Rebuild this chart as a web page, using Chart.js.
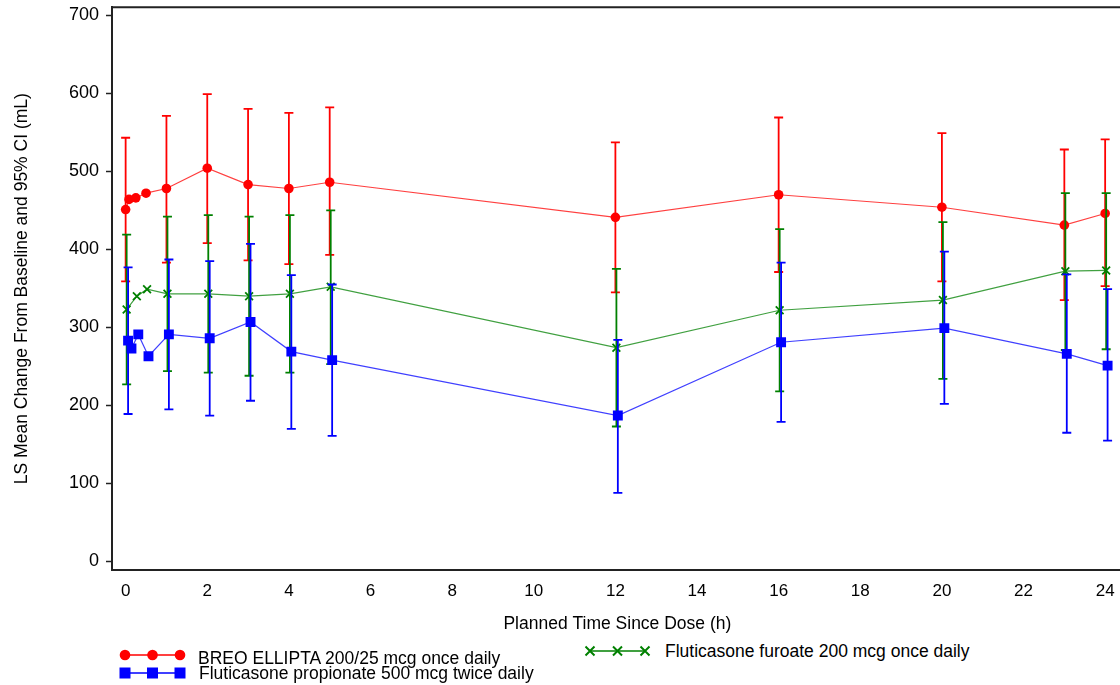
<!DOCTYPE html>
<html>
<head>
<meta charset="utf-8">
<script src="https://cdn.jsdelivr.net/npm/chart.js@4.4.1/dist/chart.umd.min.js"></script>
<style>
html,body{margin:0;padding:0;background:#fff;overflow:hidden;width:1120px;height:685px;}
#wrap{position:absolute;left:0;top:0;width:1130px;height:640px;}
.leg{position:absolute;font-family:"Liberation Sans",Arial,sans-serif;font-size:17.5px;line-height:17px;color:#000;white-space:nowrap;}
canvas.sym{position:absolute;}
</style>
</head>
<body>
<div id="wrap"><canvas id="c" width="1130" height="640"></canvas></div>
<canvas class="sym" id="symBreo" width="80" height="20" style="left:115px;top:645px;"></canvas>
<canvas class="sym" id="symFp" width="80" height="20" style="left:115px;top:663px;"></canvas>
<canvas class="sym" id="symFf" width="80" height="20" style="left:580px;top:641px;"></canvas>
<div class="leg" style="left:198px;top:650px;">BREO ELLIPTA 200/25 mcg once daily</div>
<div class="leg" style="left:199px;top:665px;">Fluticasone propionate 500 mcg twice daily</div>
<div class="leg" style="left:665px;top:643px;">Fluticasone furoate 200 mcg once daily</div>
<script>
// ---- data (hours since dose) ----
const times = [0, 0.083, 0.25, 0.5, 1, 2, 3, 4, 5, 12, 16, 20, 23, 24];

const breoMean = [451, 464, 466, 472, 478, 504, 483, 478, 486, 441, 470, 454, 431, 446];
const breoLow  = [359, null, null, null, 383, 408, 386, 381, 393, 345, 371, 359, 335, 353];
const breoHigh = [543, null, null, null, 571, 599, 580, 575, 582, 537, 569, 549, 528, 541];

const ffMean = [323, null, 340, 349, 343, 343, 340, 343, 352, 274, 322, 335, 372, 373];
const ffLow  = [227, null, null, null, 244, 242, 238, 242, 253, 173, 218, 234, 271, 272];
const ffHigh = [419, null, null, null, 442, 444, 442, 444, 450, 375, 426, 435, 472, 472];

const fpMean = [283, 273, 291, 263, 291, 286, 307, 269, 258, 187, 281, 299, 266, 251];
const fpLow  = [189, null, null, null, 195, 187, 206, 170, 161,  88, 179, 202, 165, 155];
const fpHigh = [377, null, null, null, 387, 385, 407, 367, 355, 284, 383, 397, 368, 349];

const xTicks = [0, 2, 4, 6, 8, 10, 12, 14, 16, 18, 20, 22, 24];
const yTicks = [0, 100, 200, 300, 400, 500, 600, 700];

const seriesNames = [
  'BREO ELLIPTA 200/25 mcg once daily',
  'Fluticasone furoate 200 mcg once daily',
  'Fluticasone propionate 500 mcg twice daily'
];

function pts(mean, lo, hi, shift) {
  const out = [];
  times.forEach((t, i) => {
    if (mean[i] == null) return;
    out.push({x: t + shift, y: mean[i], lo: lo[i], hi: hi[i]});
  });
  return out;
}

const FONT = '"Liberation Sans", Arial, sans-serif';
const RED = '#ff0000', GREEN = '#008000', BLUE = '#0000ff';

const errorBars = {
  id: 'errorBars',
  afterDatasetDraw(chart, args) {
    const ds = chart.data.datasets[args.index];
    const xs = chart.scales.x, ys = chart.scales.y;
    const ctx = chart.ctx;
    const a = chart.chartArea;
    ctx.save();
    ctx.beginPath();
    ctx.rect(a.left, a.top, a.right - a.left, a.bottom - a.top);
    ctx.clip();
    ctx.strokeStyle = ds.errColor;
    ctx.lineWidth = 1.8;
    const cap = 4.5;
    ds.data.forEach(p => {
      if (p.lo == null || p.hi == null) return;
      const px = xs.getPixelForValue(p.x);
      const y1 = ys.getPixelForValue(p.lo);
      const y2 = ys.getPixelForValue(p.hi);
      ctx.beginPath();
      ctx.moveTo(px, y1); ctx.lineTo(px, y2);
      ctx.moveTo(px - cap, y1); ctx.lineTo(px + cap, y1);
      ctx.moveTo(px - cap, y2); ctx.lineTo(px + cap, y2);
      ctx.stroke();
    });
    ctx.restore();
  }
};

const topFrame = {
  id: 'topFrame',
  afterDraw(chart) {
    const a = chart.chartArea, ctx = chart.ctx;
    ctx.save();
    ctx.strokeStyle = '#222';
    ctx.lineWidth = 2;
    ctx.beginPath();
    ctx.moveTo(a.left - 1, a.top);
    ctx.lineTo(a.right + 1, a.top);
    ctx.stroke();
    ctx.restore();
  }
};

new Chart(document.getElementById('c'), {
  type: 'line',
  data: {
    datasets: [
      {
        label: seriesNames[0],
        data: pts(breoMean, breoLow, breoHigh, 0),
        errColor: RED,
        borderColor: 'rgba(255,0,0,0.75)', backgroundColor: RED,
        borderWidth: 1.2, pointStyle: 'circle', pointRadius: 4.8,
        pointBackgroundColor: RED, pointBorderColor: RED, pointBorderWidth: 0,
        order: 3
      },
      {
        label: seriesNames[1],
        data: pts(ffMean, ffLow, ffHigh, 0.025),
        errColor: GREEN,
        borderColor: 'rgba(0,128,0,0.75)', backgroundColor: GREEN,
        borderWidth: 1.2, pointStyle: 'crossRot', pointRadius: 5.5,
        pointBorderColor: GREEN, pointBorderWidth: 1.8,
        order: 2
      },
      {
        label: seriesNames[2],
        data: pts(fpMean, fpLow, fpHigh, 0.06),
        errColor: BLUE,
        borderColor: 'rgba(0,0,255,0.75)', backgroundColor: BLUE,
        borderWidth: 1.2, pointStyle: 'rect', pointRadius: 7,
        pointBackgroundColor: BLUE, pointBorderColor: BLUE, pointBorderWidth: 0,
        order: 1
      }
    ]
  },
  options: {
    responsive: false,
    devicePixelRatio: 1,
    animation: false,
    events: [],
    layout: {padding: {left: 0, top: 7, right: 0, bottom: 0}},
    plugins: {legend: {display: false}, tooltip: {enabled: false}},
    scales: {
      x: {
        type: 'linear',
        min: -0.334, max: 24.43,
        afterBuildTicks: s => { s.ticks = xTicks.map(v => ({value: v})); },
        afterFit: s => { s.height = 70; s.paddingLeft = 0; s.paddingRight = 0; },
        grid: {display: false, drawTicks: false},
        border: {display: true, color: '#222', width: 2},
        ticks: {color: '#000', padding: 11, maxRotation: 0, autoSkip: false,
                font: {family: FONT, size: 17}},
        title: {display: true, text: 'Planned Time Since Dose (h)', color: '#000',
                font: {family: FONT, size: 17.5}, padding: {top: 0, bottom: 5.5}}
      },
      y: {
        type: 'linear',
        min: -10.9, max: 710.2,
        afterBuildTicks: s => { s.ticks = yTicks.map(v => ({value: v})); },
        afterFit: s => { s.width = 112; s.paddingTop = 0; s.paddingBottom = 0; },
        grid: {display: true, drawOnChartArea: false, drawTicks: true, tickLength: 6,
               color: '#222', tickWidth: 1.5},
        border: {display: true, color: '#222', width: 2},
        ticks: {color: '#000', padding: 7, autoSkip: false,
                font: {family: FONT, size: 18}},
        title: {display: true, text: 'LS Mean Change From Baseline and 95% CI (mL)', color: '#000',
                font: {family: FONT, size: 17.5}, padding: {top: 11.5, bottom: 0}}
      }
    }
  },
  plugins: [errorBars, topFrame]
});

// ---- legend symbols ----
function sym(id, color, kind) {
  const c = document.getElementById(id), g = c.getContext('2d');
  const xs = [10, 37.5, 65], y = 10;
  g.strokeStyle = color; g.fillStyle = color; g.lineWidth = 1.5;
  g.beginPath(); g.moveTo(xs[0], y); g.lineTo(xs[2], y); g.stroke();
  xs.forEach(x => {
    if (kind === 'circle') {
      g.beginPath(); g.arc(x, y, 5.3, 0, Math.PI * 2); g.fill();
    } else if (kind === 'square') {
      g.fillRect(x - 5.5, y - 5.5, 11, 11);
    } else {
      g.lineWidth = 2;
      g.beginPath();
      g.moveTo(x - 4.5, y - 4.5); g.lineTo(x + 4.5, y + 4.5);
      g.moveTo(x - 4.5, y + 4.5); g.lineTo(x + 4.5, y - 4.5);
      g.stroke();
    }
  });
}
sym('symBreo', RED, 'circle');
sym('symFp', BLUE, 'square');
sym('symFf', GREEN, 'cross');
</script>
</body>
</html>
